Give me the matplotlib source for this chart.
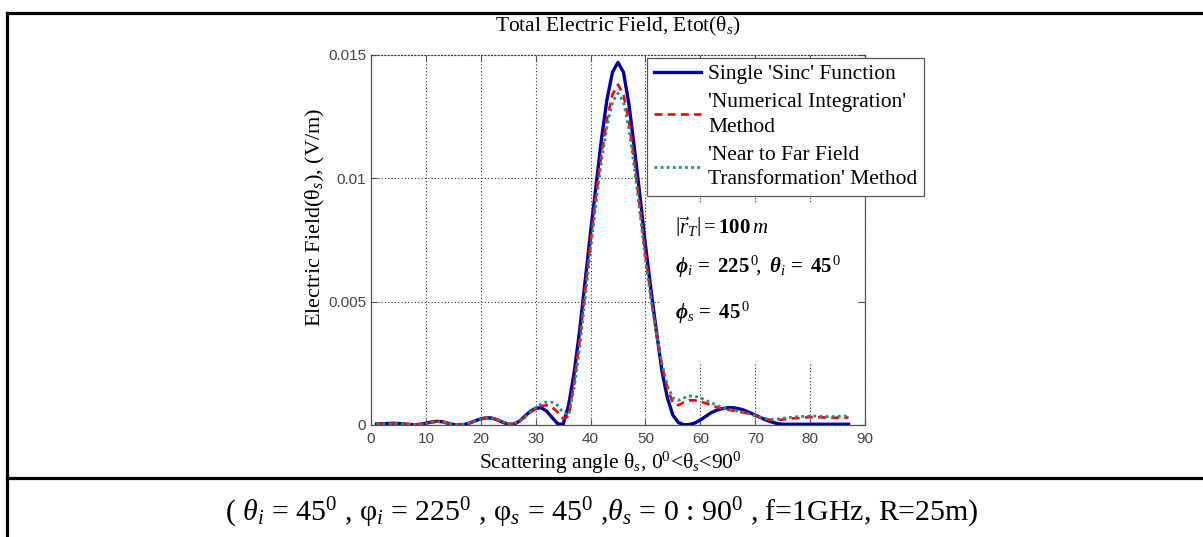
import matplotlib
matplotlib.use("Agg")
import matplotlib.pyplot as plt
from matplotlib.lines import Line2D
from matplotlib.patches import Rectangle

# Scattering angle samples (degrees)
theta_s = list(range(1, 88))

# Single 'Sinc' function result (V/m)
e_sinc = [0.00004, 0.00005, 0.00006, 0.00007, 0.00006, 0.00004, 0.00002, 0.00001, 0.00003,
          0.00007, 0.00012, 0.00015, 0.00013, 0.00007, 0.00002, 0.00001, 0.00002, 0.00008,
          0.00017, 0.00025, 0.00029, 0.00028, 0.00021, 0.00011, 0.00003, 0.00003, 0.00015,
          0.00035, 0.00055, 0.00068, 0.00070, 0.00056, 0.00030, 0.00005, 0.00002, 0.0008,
          0.0021, 0.0038, 0.0058, 0.0078, 0.0097, 0.0116, 0.0132, 0.0143, 0.0147, 0.0143,
          0.0130, 0.0112, 0.0093, 0.0073, 0.0055, 0.0038, 0.0022, 0.0011, 0.0004, 0.0001,
          0.00001, 0.00002, 0.00008, 0.0002, 0.00035, 0.0005, 0.0006, 0.00066, 0.0007,
          0.0007, 0.00066, 0.0006, 0.0005, 0.0004, 0.0003, 0.0002, 0.00012, 0.00006,
          0.00003, 0.00003, 0.00003, 0.00003, 0.00003, 0.00003, 0.00003, 0.00003, 0.00003,
          0.00003, 0.00003, 0.00003, 0.00003]

# 'Numerical Integration' method result (V/m)
e_numint = [0.00004, 0.00005, 0.00005, 0.00006, 0.00006, 0.00004, 0.00003, 0.00002, 0.00003,
            0.00006, 0.00011, 0.00014, 0.00013, 0.00008, 0.00003, 0.00002, 0.00003, 0.00008,
            0.00016, 0.00024, 0.00029, 0.00028, 0.00022, 0.00012, 0.00005, 0.00005, 0.00015,
            0.0003, 0.0005, 0.00065, 0.00077, 0.0008, 0.00072, 0.00052, 0.00025, 0.00035,
            0.0017, 0.0034, 0.0054, 0.0074, 0.0093, 0.0110, 0.0124, 0.0134, 0.0138, 0.0134,
            0.0123, 0.0107, 0.0088, 0.0069, 0.0052, 0.0037, 0.0024, 0.0015, 0.0009, 0.0008,
            0.00092, 0.0010, 0.0010, 0.00095, 0.00088, 0.0008, 0.00072, 0.00066, 0.00062,
            0.00058, 0.00054, 0.0005, 0.00045, 0.00038, 0.0003, 0.00024, 0.0002, 0.0002,
            0.00022, 0.00025, 0.00027, 0.00028, 0.0003, 0.00032, 0.00033, 0.00031, 0.0003,
            0.00029, 0.0003, 0.0003, 0.0003]

# 'Near to Far Field Transformation' method result (V/m)
e_nff = [0.00004, 0.00005, 0.00005, 0.00006, 0.00006, 0.00004, 0.00003, 0.00002, 0.00003,
         0.00006, 0.00011, 0.00014, 0.00013, 0.00008, 0.00003, 0.00002, 0.00003, 0.00008,
         0.00016, 0.00024, 0.00029, 0.00029, 0.00023, 0.00013, 0.00006, 0.00006, 0.00016,
         0.00032, 0.00052, 0.0007, 0.00085, 0.00093, 0.00092, 0.0008, 0.0005, 0.0004,
         0.0015, 0.0031, 0.0051, 0.0071, 0.0090, 0.0107, 0.0121, 0.0131, 0.01345, 0.0131,
         0.0120, 0.0104, 0.0086, 0.0067, 0.0051, 0.0037, 0.0025, 0.0016, 0.0011, 0.0010,
         0.0011, 0.00117, 0.00117, 0.0011, 0.0010, 0.0009, 0.0008, 0.0007, 0.00064,
         0.0006, 0.00055, 0.0005, 0.00044, 0.00037, 0.0003, 0.00025, 0.00022, 0.00024,
         0.00027, 0.0003, 0.00032, 0.00034, 0.00035, 0.00036, 0.00036, 0.00035, 0.00034,
         0.00034, 0.00035, 0.00036, 0.00036]

x_ticks = [0, 10, 20, 30, 40, 50, 60, 70, 80, 90]
y_ticks = [0, 0.005, 0.01, 0.015]
y_tick_labels = ["0", "0.005", "0.01", "0.015"]

legend_labels = ["Single 'Sinc' Function",
                 "'Numerical Integration'\nMethod",
                 "'Near to Far Field\nTransformation' Method"]

plt.rcParams["mathtext.fontset"] = "custom"
plt.rcParams["mathtext.rm"] = "Liberation Serif"
plt.rcParams["mathtext.it"] = "Liberation Serif:italic"
plt.rcParams["mathtext.bf"] = "Liberation Serif:bold"
try:
    plt.rcParams["mathtext.bfit"] = "Liberation Serif:bold:italic"
except KeyError:
    pass

SERIF = "Liberation Serif"
SANS = "Liberation Sans"

fig = plt.figure(figsize=(12.03, 5.37), dpi=100)
fig.patch.set_facecolor("white")

# Table frame around the figure and caption row
lw_frame = 2.3
fig.add_artist(Line2D([0.0058, 1.0], [0.9758, 0.9758], color="black", lw=lw_frame,
                      transform=fig.transFigure))
fig.add_artist(Line2D([0.0058, 0.0058], [0.0, 0.9758], color="black", lw=lw_frame,
                      transform=fig.transFigure))
fig.add_artist(Line2D([0.0058, 1.0], [0.1099, 0.1099], color="black", lw=lw_frame,
                      transform=fig.transFigure))

ax = fig.add_axes([0.3084, 0.2086, 0.4106, 0.689])
ax.set_axisbelow(True)

ax.plot(theta_s, e_sinc, color="#00009c", lw=2.4, ls="-", label=legend_labels[0], zorder=3)
ax.plot(theta_s, e_numint, color="#ff0000", lw=1.9, ls=(0, (3, 2)), label=legend_labels[1], zorder=4)
ax.plot(theta_s, e_nff, color="#1a8f8f", lw=2.0, ls=(0, (1, 1.2)), label=legend_labels[2], zorder=5)

ax.set_xlim(0, 90)
ax.set_ylim(0, 0.015)
ax.set_xticks(x_ticks)
ax.set_yticks(y_ticks)
ax.set_yticklabels(y_tick_labels)
ax.grid(True, color="#333333", ls=(0, (1, 2)), lw=0.8)

for side in ["left", "bottom", "right"]:
    ax.spines[side].set_color("#555555")
    ax.spines[side].set_linewidth(0.9)
ax.spines["top"].set_linestyle((0, (1, 2)))
ax.spines["top"].set_color("#333333")
ax.spines["top"].set_linewidth(0.8)

ax.tick_params(axis="both", direction="in", length=4, width=0.8, color="#555555",
               labelcolor="#444444", labelsize=11, top=True, right=True)
for lab in ax.get_xticklabels() + ax.get_yticklabels():
    lab.set_fontfamily(SANS)
ax.tick_params(axis="x", pad=5)

# White panel holding the geometry parameters
ax.add_patch(Rectangle((0.588, 0.168), 0.394, 0.432, transform=ax.transAxes,
                       facecolor="white", edgecolor="none", zorder=1))

ax.text(0.615, 0.535, r"$\left|\vec{r}_T\right| = \mathbf{100}\,m$", transform=ax.transAxes,
        fontsize=15, va="center", ha="left", zorder=6)
ax.text(0.615, 0.427,
        r"$\boldsymbol{\phi}_i\,\mathbf{=\ 225}^{\,0}\!,\ \boldsymbol{\theta}_i\,\mathbf{=\ 45}^{\,0}$",
        transform=ax.transAxes, fontsize=15, va="center", ha="left", zorder=6)
ax.text(0.615, 0.303, r"$\boldsymbol{\phi}_s\,\mathbf{=\ 45}^{\,0}$", transform=ax.transAxes,
        fontsize=15, va="center", ha="left", zorder=6)

leg = ax.legend(loc="upper left", bbox_to_anchor=(0.559, 0.992), prop={"family": SERIF, "size": 15.5},
                frameon=True, fancybox=False, framealpha=1, edgecolor="#555555",
                handlelength=2.2, handletextpad=0.35, labelspacing=0.4, borderpad=0.3,
                borderaxespad=0)
leg.get_frame().set_linewidth(0.9)
leg.set_zorder(7)
for t in leg.get_texts():
    t.set_linespacing(1.42)

fig.text(0.5137, 0.950, r"Total Electric Field, Etot($\mathrm{\theta}_s$)", fontfamily=SERIF,
         fontsize=15.5, ha="center", va="center")
ax.text(-0.112, 0.562, r"Electric Field($\mathrm{\theta}_s$), (V/m)", fontfamily=SERIF, fontsize=16,
        rotation=90, ha="center", va="center", transform=ax.transAxes)
fig.text(0.507, 0.1378,
         r"Scattering angle $\mathrm{\theta}_s$, $\mathrm{0^0}$<$\mathrm{\theta}_s$<$\mathrm{90^0}$",
         fontfamily=SERIF, fontsize=15.5, ha="center", va="center")

fig.text(0.5, 0.045,
         r"( $\theta_i$ = 45$^0$ , $\mathrm{\varphi}_i$ = 225$^0$ , $\mathrm{\varphi}_s$ = 45$^0$ ,"
         r"$\theta_s$ = 0 : 90$^0$ , f=1GHz, R=25m)",
         fontfamily=SERIF, fontsize=21.5, ha="center", va="center")

fig.savefig("out.png", dpi=100, facecolor="white")
